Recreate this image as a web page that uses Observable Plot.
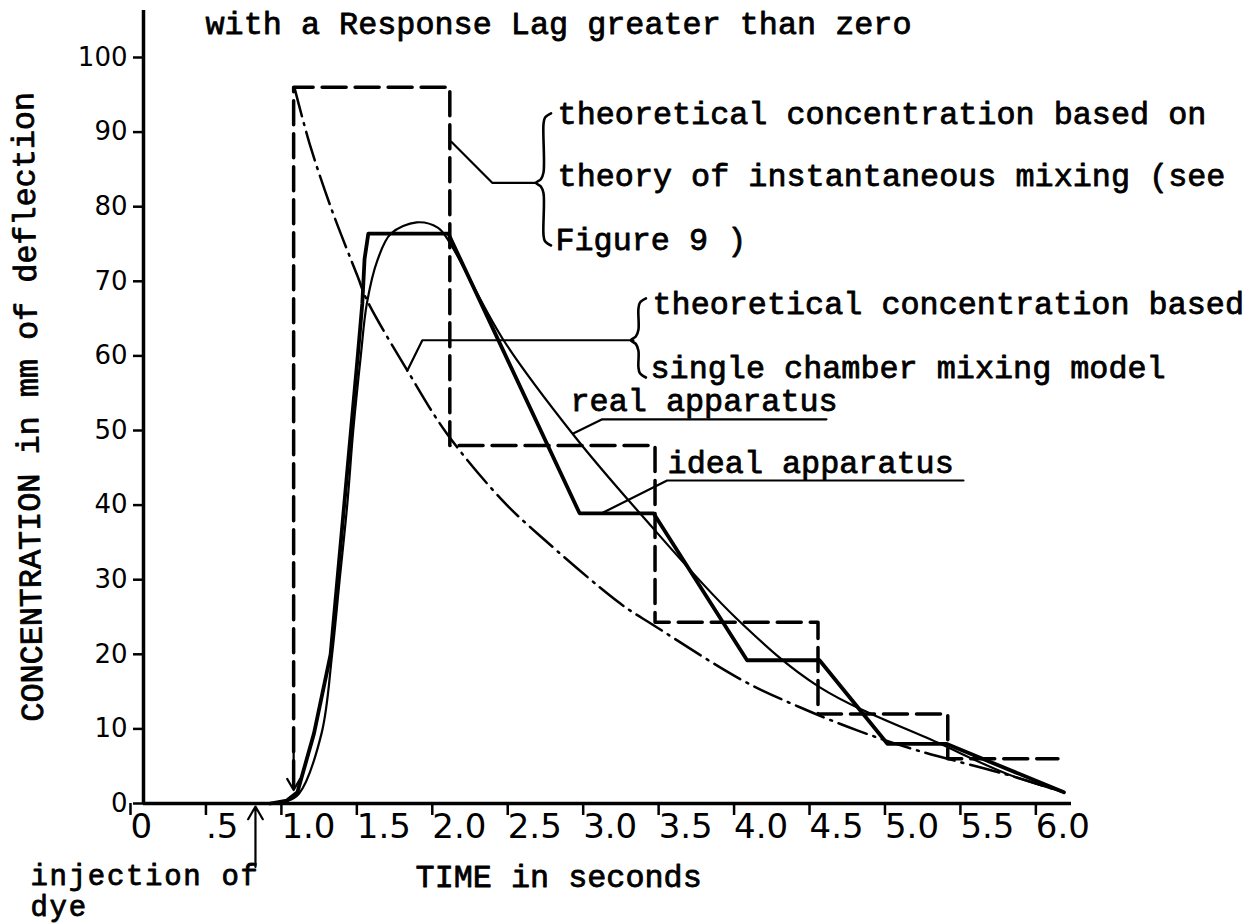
<!DOCTYPE html>
<html>
<head>
<meta charset="utf-8">
<script src="https://cdn.jsdelivr.net/npm/d3@7"></script>
<script src="https://cdn.jsdelivr.net/npm/@observablehq/plot@0.6"></script>
<style>
  html, body { margin: 0; padding: 0; background: #fff; }
  #chart svg { display: block; }
  .spaced text { letter-spacing: 1.7px; }
</style>
</head>
<body>
<div id="chart"></div>
<script>
// ---------- data ----------
// axis ticks
const xTicks = [0, 0.5, 1.0, 1.5, 2.0, 2.5, 3.0, 3.5, 4.0, 4.5, 5.0, 5.5, 6.0];
const xTickLabels = ["0", ".5", "1.0", "1.5", "2.0", "2.5", "3.0", "3.5", "4.0", "4.5", "5.0", "5.5", "6.0"];
const yTicks = [0, 10, 20, 30, 40, 50, 60, 70, 80, 90, 100];

// theoretical concentration, instantaneous mixing (dashed steps)
const stepT = [0.995, 0.995, 2.03, 3.39, 4.47, 5.33, 6.06];
const stepV = [2.5, 96, 48, 24.3, 12, 6, 6];

// theoretical concentration, single chamber mixing model (dash-dot curve)
const singleT = [1.0, 1.1, 1.24, 1.42, 1.48, 1.75, 2.01, 2.38, 2.61, 3.16, 3.38, 3.97, 4.35, 4.73, 5.13, 5.70, 6.1];
const singleV = [96, 88.5, 80, 70.6, 67.5, 58, 49.6, 40.6, 36.2, 26.8, 23.9, 16.5, 12.9, 9.8, 7.1, 4.0, 1.5];

// ideal apparatus (thick)
const idealT = [0.84, 0.95, 1.02, 1.13, 1.24, 1.285, 1.33, 1.375, 1.42, 1.45, 1.465, 1.49, 2.02, 2.89, 3.38, 4.0, 4.48, 4.93, 5.32, 6.1];
const idealV = [0, 0.4, 1.5, 9.4, 20, 30, 40, 50, 60, 67, 73, 76.4, 76.4, 38.9, 38.9, 19.2, 19.2, 8.0, 8.0, 1.5];

// real apparatus (thin)
const realT = [0.84, 0.95, 1.03, 1.18, 1.25, 1.30, 1.35, 1.39, 1.44, 1.48, 1.55, 1.64, 1.81, 1.95, 2.02, 2.38, 2.85, 3.29, 3.93, 4.48, 5.28, 5.72, 6.1];
const realV = [0, 0.3, 1.3, 9.4, 20, 30, 40, 50, 60, 67, 72.8, 76.4, 77.9, 77.2, 75.5, 62.3, 49.4, 38.9, 24.8, 15.6, 8.0, 4.0, 1.5];

// annotation texts (anchor = left end of baseline, in data units)
const noteText = [
  "with a Response Lag greater than zero",
  "theoretical concentration based on",
  "theory of instantaneous mixing (see",
  "Figure 9 )",
  "theoretical concentration based",
  "single chamber mixing model",
  "real apparatus",
  "ideal apparatus",
  "TIME in seconds"
];
const noteT = [0.411, 2.744, 2.744, 2.730, 3.373, 3.360, 2.830, 3.473, 1.803];
const noteV = [103.2, 91.15, 82.84, 74.13, 65.68, 57.10, 52.68, 44.24, -11.26];

// the two-line note under the axis
const injText = ["injection of", "dye"];
const injT = [-0.749, -0.749];
const injV = [-10.86, -15.02];

const yLabelText = ["CONCENTRATION in mm of deflection"];
const yLabelT = [-0.699];
const yLabelV = [53.2];

// leader lines
const leaderId = ["a","a","a", "b","b","b", "c","c","c", "d","d","d"];
const leaderT  = [2.04, 2.311, 2.598,  1.748, 1.848, 3.247,  2.848, 3.04, 4.526,  3.046, 3.47, 5.434];
const leaderV  = [88.7, 83.2, 83.2,    58.0, 62.1, 62.1,     49.6, 51.5, 51.5,    39.0, 43.3, 43.3];

// braces (x of spine, top, bottom, tip height)
const braceX = [2.651, 3.280];
const braceTop = [92.5, 67.7];
const braceBottom = [74.8, 57.1];
const braceMid = [83.2, 62.1];

// arrows: injection of dye, and tip of dashed vertical
const arrowT1 = [0.742, 0.995];
const arrowV1 = [-8.5, 7];
const arrowT2 = [0.742, 0.995];
const arrowV2 = [-0.4, 1.8];

// ---------- build tables ----------
const rows = (ts, vs) => ts.map((t, i) => ({t, v: vs[i]}));
const stepRows = rows(stepT, stepV);
const singleRows = rows(singleT, singleV);
const idealRows = rows(idealT, idealV);
const realRows = rows(realT, realV);
const noteRows = noteText.map((s, i) => ({s, t: noteT[i], v: noteV[i]}));
const injRows = injText.map((s, i) => ({s, t: injT[i], v: injV[i]}));
const yLabelRows = yLabelText.map((s, i) => ({s, t: yLabelT[i], v: yLabelV[i]}));
const leaderRows = leaderId.map((id, i) => ({id, t: leaderT[i], v: leaderV[i]}));
const arrowRows = arrowT1.map((t, i) => ({x1: t, y1: arrowV1[i], x2: arrowT2[i], y2: arrowV2[i]}));
const xLabelMap = new Map(xTicks.map((t, i) => [t, xTickLabels[i]]));

// brace outline (shape only)
const bw = 0.05, bh = 1.4;
const braceRows = braceX.flatMap((x, i) => {
  const top = braceTop[i], bot = braceBottom[i], mid = braceMid[i];
  return [
    [x + bw, top], [x + 0.2 * bw, top - 0.4 * bh], [x, top - bh],
    [x, mid + bh], [x - 0.35 * bw, mid + 0.35 * bh], [x - bw, mid],
    [x - 0.35 * bw, mid - 0.35 * bh], [x, mid - bh],
    [x, bot + bh], [x + 0.2 * bw, bot + 0.4 * bh], [x + bw, bot]
  ].map(([t, v]) => ({id: i, t, v}));
});

const MONO = "'Liberation Mono', 'Courier New', monospace";
const SANS = "'DejaVu Sans', sans-serif";

const chart = Plot.plot({
  width: 1254,
  height: 924,
  marginLeft: 143,
  marginRight: 183,
  marginTop: 10,
  marginBottom: 121,
  x: {domain: [0, 6.15]},
  y: {domain: [0, 106.3]},
  style: {background: "#fff", color: "#000"},
  marks: [
    Plot.axisY({ticks: yTicks, tickSize: 10, tickPadding: 6, fontSize: 26, fontFamily: SANS, strokeWidth: 2.5, label: null}),
    Plot.axisX({ticks: xTicks, tickFormat: d => xLabelMap.get(d), textAnchor: "start", dx: -13,
                tickSize: 12, tickPadding: -2, fontSize: 34, fontFamily: SANS, strokeWidth: 2.5, label: null}),
    Plot.ruleX([0], {y1: 0, y2: 106.3, strokeWidth: 3.5}),
    Plot.ruleY([0], {x1: 0, x2: 6.15, strokeWidth: 3.5}),
    // instantaneous mixing step
    Plot.line(stepRows, {x: "t", y: "v", curve: "step-after", stroke: "#000", strokeWidth: 3.5, strokeDasharray: "24,9"}),
    // single chamber model
    Plot.line(singleRows, {x: "t", y: "v", curve: "catmull-rom", stroke: "#000", strokeWidth: 2.5, strokeDasharray: "30,7,2,7"}),
    // ideal apparatus
    Plot.line(idealRows, {x: "t", y: "v", curve: "linear", stroke: "#000", strokeWidth: 3.8, strokeLinejoin: "round"}),
    // real apparatus
    Plot.line(realRows, {x: "t", y: "v", curve: "catmull-rom", stroke: "#000", strokeWidth: 2.2}),
    // leaders and braces
    Plot.line(leaderRows, {x: "t", y: "v", z: "id", stroke: "#000", strokeWidth: 2.2}),
    Plot.line(braceRows, {x: "t", y: "v", z: "id", curve: "catmull-rom", stroke: "#000", strokeWidth: 2.6}),
    Plot.arrow(arrowRows, {x1: "x1", y1: "y1", x2: "x2", y2: "y2", stroke: "#000", strokeWidth: 2.2, headLength: 10}),
    // texts
    Plot.text(noteRows, {x: "t", y: "v", text: "s", textAnchor: "start", lineAnchor: "bottom",
                         fontSize: 31.8, fontFamily: MONO, fill: "#000", stroke: "#000", strokeWidth: 0.8}),
    Plot.text(injRows, {x: "t", y: "v", text: "s", textAnchor: "start", lineAnchor: "bottom", className: "spaced",
                        fontSize: 29, fontFamily: MONO, fill: "#000", stroke: "#000", strokeWidth: 0.8}),
    Plot.text(yLabelRows, {x: "t", y: "v", text: "s", rotate: -90.9, textAnchor: "middle", lineAnchor: "bottom",
                           fontSize: 31.8, fontFamily: MONO, fill: "#000", stroke: "#000", strokeWidth: 0.8})
  ]
});
document.getElementById("chart").append(chart);
</script>
</body>
</html>
